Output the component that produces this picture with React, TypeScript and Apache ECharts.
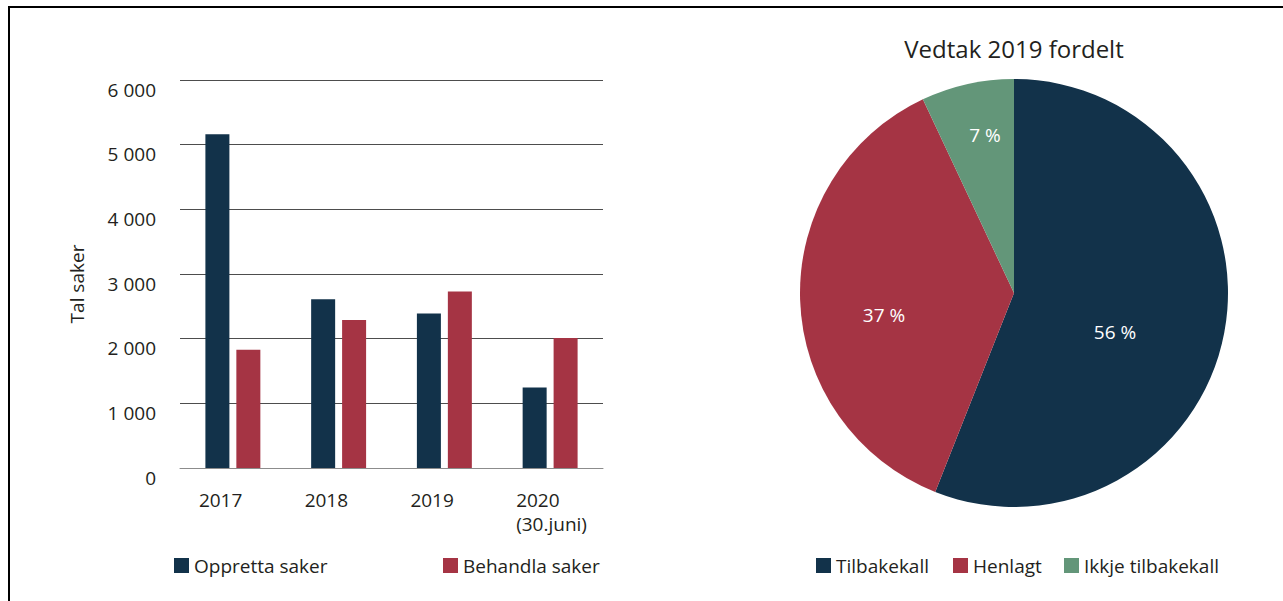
import React, { useEffect, useRef } from "react";
import * as echarts from "echarts";

const years = ["2017", "2018", "2019", "2020\n(30.juni)"];
const opprettaSaker = [5160, 2610, 2390, 1245];
const behandlaSaker = [1830, 2290, 2730, 2010];
const barSeriesNames = ["Oppretta saker", "Behandla saker"];
const yAxisTitle = "Tal saker";

const pieTitle = "Vedtak 2019 fordelt";
const pieNames = ["Tilbakekall", "Henlagt", "Ikkje tilbakekall"];
const pieValues = [56, 37, 7];

const NAVY = "#12324a";
const RED = "#a53444";
const GREEN = "#639679";
const TEXT = "#231f20";
const FONT = "'Open Sans', sans-serif";

const labelOffsets = [
  { dx: -7, dy: 18 },
  { dx: -20, dy: 19 },
  { dx: -5, dy: -51 },
];

function fmtThousands(v: number): string {
  if (v === 0) return "0";
  return `${Math.floor(v / 1000)} 000`;
}

export default function App() {
  const ref = useRef<HTMLDivElement>(null);

  useEffect(() => {
    if (!ref.current) return;
    const chart = echarts.init(ref.current, undefined, { renderer: "svg" });
    const legendText = { color: TEXT, fontSize: 19, fontFamily: FONT };
    const mkLegend = (left: number, name: string) => ({
      left,
      top: 551,
      itemWidth: 15,
      itemHeight: 15,
      icon: "rect",
      data: [name],
      textStyle: legendText,
      selectedMode: false,
    });
    const option: any = {
      animation: false,
      textStyle: { fontFamily: FONT, color: TEXT },
      color: [NAVY, RED],
      legend: [
        mkLegend(169, barSeriesNames[0]),
        mkLegend(438, barSeriesNames[1]),
        mkLegend(811, pieNames[0]),
        mkLegend(948, pieNames[1]),
        mkLegend(1059, pieNames[2]),
      ],
      grid: { left: 180, right: 680, top: 80, bottom: 133, containLabel: false },
      xAxis: {
        type: "category",
        data: years,
        axisTick: { show: false },
        axisLine: { show: true, lineStyle: { color: "#8c8c8c", width: 1 } },
        axisLabel: {
          color: TEXT,
          fontSize: 19,
          fontFamily: FONT,
          margin: 20,
          lineHeight: 24,
          align: "left",
          padding: [0, 0, 0, -34],
          interval: 0,
        },
      },
      yAxis: {
        type: "value",
        min: 0,
        max: 6000,
        interval: 1000,
        axisLine: { show: false },
        axisTick: { show: false },
        splitLine: { lineStyle: { color: "#4d4d4d", width: 1 } },
        axisLabel: {
          color: TEXT,
          fontSize: 19,
          fontFamily: FONT,
          margin: 24,
          verticalAlign: "top",
          formatter: (v: number) => fmtThousands(v),
        },
      },
      graphic: [
        {
          type: "text",
          x: 77,
          y: 284,
          rotation: Math.PI / 2,
          style: {
            text: yAxisTitle,
            fill: TEXT,
            fontSize: 19,
            fontFamily: FONT,
            align: "center",
            verticalAlign: "middle",
          },
        },
        {
          type: "text",
          x: 1014,
          y: 48,
          style: {
            text: pieTitle,
            fill: TEXT,
            fontSize: 24,
            fontFamily: FONT,
            align: "center",
            verticalAlign: "middle",
          },
        },
      ],
      series: [
        {
          name: barSeriesNames[0],
          type: "bar",
          data: opprettaSaker,
          barWidth: 24,
          barGap: "29%",
          itemStyle: { color: NAVY },
        },
        {
          name: barSeriesNames[1],
          type: "bar",
          data: behandlaSaker,
          barWidth: 24,
          barGap: "29%",
          itemStyle: { color: RED },
        },
        {
          name: "Vedtak",
          type: "pie",
          center: [1014, 293],
          radius: 214,
          startAngle: 90,
          clockwise: true,
          data: pieNames.map((n, i) => ({
            name: n,
            value: pieValues[i],
            itemStyle: { color: [NAVY, RED, GREEN][i] },
          })),
          itemStyle: { borderWidth: 0 },
          label: {
            show: true,
            position: "inside",
            color: "#ffffff",
            fontSize: 19,
            fontFamily: FONT,
            formatter: (p: any) => `${p.value} %`,
          },
          labelLine: { show: false },
          labelLayout: (p: any) => labelOffsets[p.dataIndex] || {},
          emphasis: { disabled: true },
        },
      ],
    };
    chart.setOption(option);
    return () => chart.dispose();
  }, []);

  return (
    <div
      style={{
        position: "fixed",
        left: 0,
        top: 0,
        width: 1283,
        height: 601,
        overflow: "hidden",
        background: "#ffffff",
      }}
    >
      <div
        style={{
          position: "absolute",
          left: 8,
          top: 6,
          width: 1400,
          height: 700,
          border: "2px solid #000000",
          boxSizing: "border-box",
        }}
      />
      <div
        ref={ref}
        style={{ position: "absolute", left: 0, top: 0, width: 1283, height: 601 }}
      />
    </div>
  );
}
